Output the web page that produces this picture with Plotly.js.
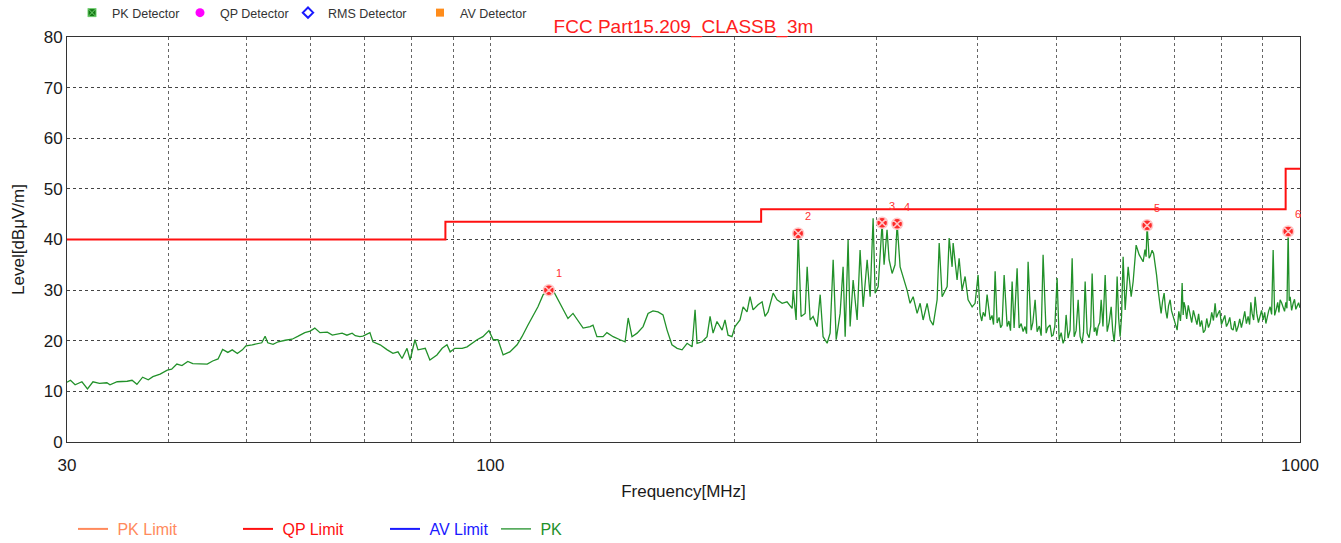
<!DOCTYPE html>
<html>
<head>
<meta charset="utf-8">
<script src="https://cdn.plot.ly/plotly-3.0.1.min.js"></script>
<style>
html,body{margin:0;padding:0;background:#fff;}
#chart{width:1341px;height:543px;}
</style>
</head>
<body>
<div id="chart"></div>
<script>
// ---- Data ----
const pkFreq = [
  30.0, 30.3, 30.7, 31.3, 31.8, 32.3, 32.9, 33.6, 33.9, 34.6,
  35.6, 36.1, 36.6, 37.2, 37.8, 38.3, 39.1, 39.9, 40.4, 41.0,
  41.6, 42.3, 42.9, 43.8, 44.7, 45.4, 46.1, 46.7, 47.4, 48.0,
  48.7, 49.4, 49.9, 50.8, 51.6, 52.2, 52.7, 53.1, 53.9, 54.7,
  55.8, 56.9, 57.9, 59.0, 59.9, 60.7, 61.6, 62.9, 63.8, 64.7,
  65.6, 66.5, 67.5, 68.1, 69.0, 69.6, 71.0, 71.6, 73.1, 74.6,
  75.8, 76.9, 77.8, 78.9, 79.6, 80.7, 81.4, 83.1, 84.2, 85.9,
  87.2, 88.4, 89.2, 90.4, 92.3, 93.6, 96.3, 97.9, 99.6, 100.8,
  102.2, 103.7, 105.7, 107.9, 109.4, 111.3, 112.9, 114.5, 116.2, 118.1,
  119.5, 121.2, 122.9, 124.7, 126.5, 128.3, 130.2, 132.8, 133.9, 135.4,
  137.8, 139.3, 141.8, 144.6, 146.7, 148.0, 149.6, 151.8, 154.4, 156.6,
  158.8, 161.1, 163.4, 165.3, 167.6, 170.1, 172.5, 175.0, 177.5, 179.0,
  180.0, 182.6, 185.2, 186.8, 188.4, 190.5, 193.3, 194.9, 196.6, 198.8,
  200.5, 203.4, 205.2, 207.5, 209.3, 211.1, 214.1, 216.6, 218.4, 220.3,
  223.5, 226.0, 229.3, 232.5, 235.9, 236.6, 238.6, 240.0, 242.0, 244.8,
  246.2, 248.3, 250.4, 253.3, 255.5, 257.6, 260.6, 262.8, 265.1, 267.4,
  270.4, 272.7, 274.3, 276.6, 278.2, 280.6, 283.8, 286.2, 288.7, 292.0,
  294.5, 297.0, 298.7, 301.3, 304.7, 306.4, 309.0, 310.8, 313.5, 316.1,
  318.0, 320.7, 323.4, 327.1, 329.9, 332.8, 336.6, 339.5, 342.4, 346.3,
  349.3, 352.3, 356.3, 358.4, 361.4, 364.5, 366.6, 368.7, 371.8, 372.9,
  377.1, 379.3, 382.5, 385.8, 389.1, 393.6, 396.9, 400.3, 402.6, 404.5,
  406.2, 408.4, 410.7, 414.3, 416.5, 418.3, 420.2, 422.6, 425.0, 426.8,
  428.6, 431.1, 434.8, 437.0, 439.0, 441.0, 443.5, 447.3, 449.9, 452.5,
  455.0, 457.5, 459.5, 461.5, 465.5, 467.8, 470.8, 473.5, 476.5, 479.0,
  481.6, 485.8, 488.0, 491.3, 493.5, 495.5, 498.0, 501.2, 504.1, 507.0,
  509.8, 512.0, 514.2, 517.1, 520.0, 523.1, 526.1, 529.0, 532.1, 535.0,
  538.1, 540.3, 542.8, 545.9, 549.0, 551.5, 553.7, 556.9, 559.5, 561.0,
  563.2, 565.8, 568.1, 571.0, 574.6, 577.9, 581.0, 584.5, 587.0, 589.5,
  592.0, 594.5, 597.0, 599.6, 602.0, 604.7, 608.2, 613.4, 618.7, 622.2,
  627.5, 632.9, 640.1, 643.5, 645.5, 647.4, 651.1, 653.5, 656.7, 659.5,
  662.3, 665.0, 668.0, 670.8, 673.7, 676.5, 679.5, 682.3, 685.3, 688.0,
  691.2, 694.0, 697.1, 701.0, 705.1, 708.5, 711.8, 713.5, 715.2, 717.3,
  719.0, 721.3, 724.5, 727.8, 731.6, 735.0, 738.5, 742.1, 746.0, 749.5,
  752.7, 756.2, 759.8, 763.5, 767.0, 770.8, 774.4, 778.0, 781.8, 785.5,
  788.5, 792.2, 796.0, 799.8, 803.6, 807.5, 811.2, 815.1, 819.0, 822.8,
  826.8, 830.5, 834.6, 838.6, 842.5, 846.5, 850.6, 854.6, 858.7, 862.8,
  866.5, 869.5, 872.7, 876.5, 880.2, 884.3, 888.5, 892.8, 896.5, 900.5,
  904.5, 907.5, 910.8, 914.7, 918.6, 922.5, 926.5, 930.5, 934.4, 938.5,
  941.8, 945.1, 949.0, 953.2, 957.0, 960.5, 963.5, 966.9, 969.8, 972.4,
  976.5, 980.8, 984.5, 988.2, 992.0, 996.0, 1000
];
const pkLevel = [
  11.8, 12.2, 11.3, 11.9, 10.5, 11.9, 11.6, 11.7, 11.3, 11.9,
  12.0, 12.2, 11.4, 12.8, 12.3, 12.9, 13.4, 14.2, 14.4, 15.4,
  15.1, 15.9, 15.5, 15.4, 15.4, 16.0, 16.4, 18.3, 17.7, 18.2,
  17.5, 18.2, 19.0, 19.2, 19.4, 19.6, 20.9, 19.6, 19.3, 19.8,
  20.1, 20.3, 20.9, 21.6, 21.9, 22.5, 21.6, 21.7, 21.1, 21.3,
  21.5, 21.1, 21.5, 21.0, 20.8, 20.9, 21.6, 19.8, 19.2, 18.2,
  17.5, 17.8, 16.5, 18.5, 16.2, 20.2, 18.2, 18.5, 16.2, 17.2,
  18.5, 19.2, 17.8, 18.5, 18.5, 18.8, 20.2, 20.8, 22.0, 20.2,
  20.2, 17.2, 17.8, 19.2, 20.8, 23.1, 24.8, 26.7, 29.1, 30.0,
  30.0, 28.1, 26.1, 24.4, 25.4, 24.1, 22.5, 22.8, 23.1, 20.8,
  20.8, 21.6, 20.8, 20.2, 19.8, 24.5, 20.8, 21.5, 22.8, 25.4,
  25.9, 25.7, 25.1, 22.1, 19.2, 18.5, 18.2, 19.5, 18.8, 26.1,
  19.5, 19.8, 20.8, 24.8, 21.5, 23.8, 22.1, 24.1, 21.1, 20.8,
  22.8, 24.1, 26.7, 25.7, 28.7, 26.1, 27.1, 27.7, 24.8, 25.7,
  29.4, 28.1, 27.4, 27.7, 26.4, 30.0, 24.1, 41.2, 24.8, 25.4,
  34.6, 24.1, 24.8, 22.8, 29.1, 20.8, 19.5, 21.5, 36.0, 20.2,
  25.4, 34.6, 20.8, 39.9, 22.8, 32.0, 24.1, 37.9, 26.7, 36.0,
  28.7, 44.2, 29.4, 30.7, 43.3, 35.0, 41.9, 36.0, 33.3, 35.0,
  43.1, 34.6, 32.7, 30.0, 27.4, 28.7, 25.4, 27.4, 24.1, 27.4,
  24.1, 23.1, 28.1, 39.3, 28.7, 30.0, 30.7, 40.3, 34.6, 39.3,
  32.0, 36.3, 30.0, 32.7, 28.1, 26.7, 27.4, 33.0, 25.4, 23.9,
  25.6, 24.8, 29.1, 24.1, 25.0, 23.2, 33.7, 23.5, 24.6, 22.6,
  23.1, 33.0, 22.8, 23.9, 22.0, 31.7, 22.5, 34.3, 22.5, 23.4,
  21.8, 22.8, 21.4, 35.6, 22.1, 23.6, 28.1, 21.8, 22.9, 21.0,
  37.0, 21.5, 22.6, 23.1, 20.9, 21.1, 22.9, 32.4, 20.2, 21.6,
  19.5, 20.3, 25.1, 20.5, 22.1, 36.3, 20.8, 22.0, 28.1, 20.9,
  19.5, 21.8, 31.7, 21.5, 20.6, 22.9, 33.3, 21.8, 22.6, 21.0,
  22.8, 23.6, 28.1, 22.8, 33.0, 21.8, 23.6, 26.7, 22.0, 19.8,
  23.6, 32.7, 24.5, 20.8, 24.8, 36.6, 26.1, 34.6, 28.7, 31.7,
  38.9, 37.0, 35.6, 38.0, 36.6, 42.8, 36.3, 36.8, 37.9, 37.2,
  35.3, 33.0, 30.0, 27.4, 25.4, 27.8, 29.4, 26.1, 24.4, 26.9,
  28.1, 25.9, 24.8, 23.6, 22.1, 25.8, 23.9, 26.5, 31.4, 25.1,
  27.6, 26.7, 24.3, 27.0, 25.4, 23.6, 26.0, 24.8, 23.2, 25.3,
  22.8, 24.0, 21.6, 22.1, 24.4, 22.6, 23.5, 25.6, 24.0, 27.4,
  24.6, 25.4, 26.0, 23.2, 24.1, 25.0, 22.8, 23.5, 24.6, 22.4,
  22.1, 23.9, 21.8, 22.8, 24.3, 22.6, 24.1, 25.8, 23.4, 24.8,
  23.2, 27.6, 25.4, 24.1, 28.7, 25.4, 23.6, 24.8, 26.0, 24.1,
  25.6, 23.4, 24.8, 25.9, 26.7, 25.2, 37.9, 25.0, 26.1, 27.6,
  25.6, 28.1, 27.5, 26.7, 25.8, 27.6, 26.4, 41.6, 27.9, 28.7,
  26.0, 27.4, 28.2, 26.2, 26.7, 27.5, 26.5
];
const qpLimitFreq  = [30, 88, 88, 216, 216, 960, 960, 1000];
const qpLimitLevel = [40, 40, 43.5, 43.5, 46, 46, 54, 54];
const markerFreq   = [118.1, 240.0, 304.7, 318.0, 647.4, 966.9];
const markerLevel  = [30.0, 41.2, 43.3, 43.1, 42.8, 41.6];
const markerLabels = ['1', '2', '3', '4', '5', '6'];
const xTickVals = [30, 40, 50, 60, 70, 80, 90, 100, 200, 300, 400, 500, 600, 700, 800, 900, 1000];
const xTickText = ['30', '', '', '', '', '', '', '100', '', '', '', '', '', '', '', '', '1000'];
const yTickVals = [0, 10, 20, 30, 40, 50, 60, 70, 80];
const detectorNames = ['PK Detector', 'QP Detector', 'RMS Detector', 'AV Detector'];
const limitNames = ['PK Limit', 'QP Limit', 'AV Limit', 'PK'];

const FONT = 'Arial, "Liberation Sans", Helvetica, sans-serif';

// ---- Traces ----
const traces = [];
const detStyles = [
  {symbol: 'square-x', color: '#157a15', line: {color: '#6fcf6f', width: 1}, size: 8},
  {symbol: 'circle', color: '#ff00ff', line: {color: '#ff00ff', width: 0}, size: 9},
  {symbol: 'diamond-open', color: '#1a1aff', line: {color: '#1a1aff', width: 2}, size: 8},
  {symbol: 'square', color: '#ff8c1a', line: {color: '#ff8c1a', width: 0}, size: 8}
];
const detLegendIds = ['legend', 'legend6', 'legend7', 'legend8'];
detectorNames.forEach((n, i) => {
  traces.push({x: [null], y: [null], type: 'scatter', mode: 'markers', name: n,
    marker: detStyles[i], legend: detLegendIds[i], hoverinfo: 'skip'});
});
traces.push({x: [null], y: [null], type: 'scatter', mode: 'lines', name: '\u00A0' + limitNames[0],
  line: {color: '#ff8a5c', width: 2}, legend: 'legend2'});
traces.push({x: qpLimitFreq, y: qpLimitLevel, type: 'scatter', mode: 'lines', name: '\u00A0' + limitNames[1],
  line: {color: '#ff1010', width: 2}, legend: 'legend3'});
traces.push({x: [null], y: [null], type: 'scatter', mode: 'lines', name: '\u00A0' + limitNames[2],
  line: {color: '#1a1aff', width: 2}, legend: 'legend4'});
traces.push({x: pkFreq, y: pkLevel, type: 'scatter', mode: 'lines', name: '\u00A0' + limitNames[3],
  line: {color: '#22912a', width: 1.3}, legend: 'legend5'});
traces.push({x: markerFreq, y: markerLevel, type: 'scatter', mode: 'markers', showlegend: false,
  marker: {symbol: 'circle-x', size: 11, color: '#ff2a2a', line: {color: '#ffc8c8', width: 1.5}}});

const annotations = markerFreq.map((f, i) => ({
  x: Math.log10(f), y: markerLevel[i], xref: 'x', yref: 'y', text: markerLabels[i],
  showarrow: false, xshift: 10, yshift: 17, font: {family: FONT, size: 11, color: '#ff3030'}
}));

function legendAt(px, py, size, color) {
  return {orientation: 'h', x: (px - 67) / 1233, xanchor: 'left', xref: 'paper',
    y: (442 - py) / 405, yanchor: 'middle', yref: 'paper',
    font: {family: FONT, size: size, color: color}, bgcolor: 'rgba(0,0,0,0)', itemwidth: 30};
}

const layout = {
  width: 1341, height: 543,
  margin: {l: 67, r: 41, t: 37, b: 101, autoexpand: false},
  paper_bgcolor: '#ffffff', plot_bgcolor: '#ffffff',
  font: {family: FONT, color: '#222'},
  title: {text: 'FCC Part15.209_CLASSB_3m', font: {family: FONT, size: 19, color: '#ff2020'},
    x: 0.5, xref: 'paper', xanchor: 'center', y: 1 - 26 / 543, yref: 'container', yanchor: 'middle'},
  xaxis: {
    type: 'log', range: [Math.log10(30), 3],
    tickmode: 'array', tickvals: xTickVals, ticktext: xTickText,
    showgrid: true, gridcolor: '#666', griddash: 'dot', gridwidth: 1,
    showline: true, linecolor: '#333', linewidth: 1, mirror: true, ticks: '',
    ticklabelstandoff: 8,
    tickfont: {family: FONT, size: 17, color: '#1a1a1a'}, zeroline: false,
    title: {text: 'Frequency[MHz]', font: {family: FONT, size: 17, color: '#1a1a1a'}, standoff: 10}
  },
  yaxis: {
    range: [0, 80], tickmode: 'array', tickvals: yTickVals,
    showgrid: true, gridcolor: '#444', griddash: 'dot', gridwidth: 1,
    showline: true, linecolor: '#333', linewidth: 1, mirror: true, ticks: '',
    tickfont: {family: FONT, size: 17, color: '#1a1a1a'}, zeroline: false,
    title: {text: 'Level[dBμV/m]', font: {family: FONT, size: 17, color: '#1a1a1a'}, standoff: 14}
  },
  showlegend: true,
  legend:  legendAt(72, 13, 12.5, '#333'),
  legend6: legendAt(180, 13, 12.5, '#333'),
  legend7: legendAt(288, 13, 12.5, '#333'),
  legend8: legendAt(420, 13, 12.5, '#333'),
  legend2: legendAt(73, 529, 16, '#ff8a5c'),
  legend3: legendAt(238, 529, 16, '#ff1010'),
  legend4: legendAt(385, 529, 16, '#1a1aff'),
  legend5: legendAt(496, 529, 16, '#22912a'),
  annotations: annotations
};

Plotly.newPlot('chart', traces, layout, {staticPlot: true, displayModeBar: false});
</script>
</body>
</html>
